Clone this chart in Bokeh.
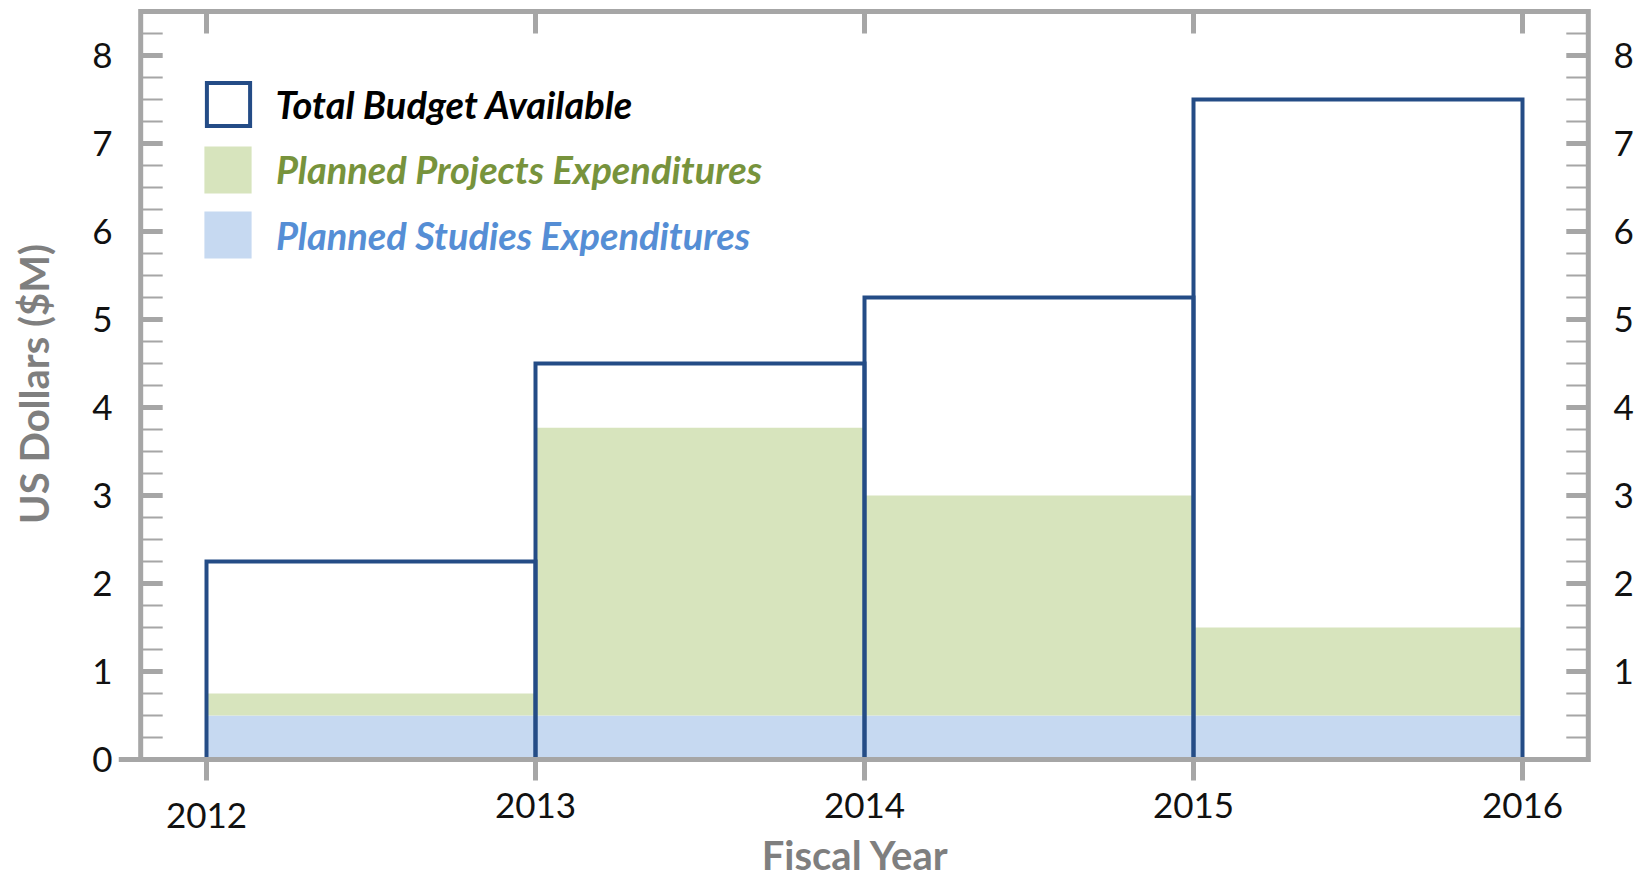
from bokeh.plotting import figure
from bokeh.models import (Range1d, LinearAxis, FixedTicker, Legend, LegendItem,
                          ColumnDataSource)
from bokeh.embed import file_html
from bokeh.resources import INLINE

# ---------------- data ----------------
years = [2012, 2013, 2014, 2015]
year_ticks = [2012, 2013, 2014, 2015, 2016]
total_budget = [2.25, 4.5, 5.25, 7.5]
studies = [0.5, 0.5, 0.5, 0.5]
projects = [0.25, 3.27, 2.5, 1.0]
left_ticks = [0, 1, 2, 3, 4, 5, 6, 7, 8]
right_ticks = [1, 2, 3, 4, 5, 6, 7, 8]
legend_labels = ["Total Budget Available", "Planned Projects Expenditures",
                 "Planned Studies Expenditures"]
x_title = "Fiscal Year"
y_title = "US Dollars ($M)"

# ---------------- styles ----------------
NAVY = "#244C86"
GREEN_FILL = "#D7E4BD"
BLUE_FILL = "#C6D9F1"
GRAY = "#A6A6A6"
TITLE_GRAY = "#7F7F7F"
TICK_COLOR = "#111111"
FONT = "Lato"

W, H = 1640, 882
FL, FR, FT, FB = 118, 1592, 5, 762          # frame edges (px)
X0_PX, PX_YEAR = 206, 329.0                  # 2012 position, px per year
Y0_PX, PX_UNIT = 759, 88.0                   # y=0 position, px per $M

x_start = years[0] - (X0_PX - FL) / PX_YEAR
x_end = years[0] + (FR - X0_PX) / PX_YEAR
y_start = -(FB - Y0_PX) / PX_UNIT
y_end = (Y0_PX - FT) / PX_UNIT

box_left = years[0] - 0.2
box_right = year_ticks[-1] + 0.2
box_top = 8.5
tick_len_x = 22 / PX_YEAR
tick_len_y = 22 / PX_UNIT

p = figure(width=W, height=H, x_range=Range1d(x_start, x_end), y_range=Range1d(y_start, y_end),
           x_axis_type=None, y_axis_type=None, output_backend="svg", toolbar_location=None,
           min_border_left=FL, min_border_right=W - FR, min_border_top=FT, min_border_bottom=H - FB)
p.outline_line_color = None
p.background_fill_color = "white"
p.border_fill_color = "white"

# ---------------- bars ----------------
rights = [y + 1 for y in years]
proj_top = [s + v for s, v in zip(studies, projects)]
src = ColumnDataSource(dict(left=years, right=rights, zero=[0] * len(years),
                            stud_top=studies, proj_top=proj_top, total=total_budget))

blue_r = p.quad(left="left", right="right", bottom="zero", top="stud_top", source=src,
                fill_color=BLUE_FILL, line_color=None)
green_r = p.quad(left="left", right="right", bottom="stud_top", top="proj_top", source=src,
                 fill_color=GREEN_FILL, line_color=None)
total_r = p.quad(left="left", right="right", bottom="zero", top="total", source=src,
                 fill_color=None, line_color=NAVY, line_width=4, line_join="miter")

# ---------------- frame lines & ticks ----------------
p.line(x=[x_start, box_right, box_right, box_left, box_left], y=[0, 0, box_top, box_top, 0],
       line_color=GRAY, line_width=5, line_join="miter")

minor_y = [i / 4 for i in range(1, 34) if i % 4 != 0]
major_y = right_ticks
p.segment(x0=[box_left] * len(minor_y), x1=[box_left + tick_len_x] * len(minor_y),
          y0=minor_y, y1=minor_y, line_color=GRAY, line_width=2)
p.segment(x0=[box_right - tick_len_x] * len(minor_y), x1=[box_right] * len(minor_y),
          y0=minor_y, y1=minor_y, line_color=GRAY, line_width=2)
p.segment(x0=[box_left] * len(major_y), x1=[box_left + tick_len_x] * len(major_y),
          y0=major_y, y1=major_y, line_color=GRAY, line_width=5)
p.segment(x0=[box_right - tick_len_x] * len(major_y), x1=[box_right] * len(major_y),
          y0=major_y, y1=major_y, line_color=GRAY, line_width=5)
p.segment(x0=year_ticks, x1=year_ticks, y0=[box_top] * len(year_ticks),
          y1=[box_top - tick_len_y] * len(year_ticks), line_color=GRAY, line_width=5)

# ---------------- axes ----------------
common = dict(axis_line_color=None, minor_tick_line_color=None,
              major_label_text_font=FONT, major_label_text_font_size="35px",
              major_label_text_color=TICK_COLOR)

# the first year label sits a little lower in the original: push it down one short line
xa = LinearAxis(ticker=FixedTicker(ticks=year_ticks), major_tick_line_color=GRAY,
                major_tick_line_width=5, major_tick_in=3, major_tick_out=18,
                major_label_standoff=2, major_label_text_line_height=0.26,
                major_label_overrides={year_ticks[0]: "\n" + str(year_ticks[0])},
                axis_label=x_title, axis_label_text_font=FONT,
                axis_label_text_font_style="bold", axis_label_text_font_size="40px",
                axis_label_text_color=TITLE_GRAY, axis_label_standoff=-7, **common)
p.add_layout(xa, "below")

ya = LinearAxis(ticker=FixedTicker(ticks=left_ticks), major_tick_line_color=None,
                major_tick_in=0, major_tick_out=0, major_label_standoff=6,
                axis_label=y_title, axis_label_text_font=FONT,
                axis_label_text_font_style="bold", axis_label_text_font_size="40px",
                axis_label_text_color=TITLE_GRAY, axis_label_standoff=31, **common)
p.add_layout(ya, "left")

ya2 = LinearAxis(ticker=FixedTicker(ticks=right_ticks), major_tick_line_color=None,
                 major_tick_in=0, major_tick_out=0, major_label_standoff=21, **common)
p.add_layout(ya2, "right")

# ---------------- legends ----------------
def make_legend(label, rend, color, glyph, loc, standoff):
    lg = Legend(items=[LegendItem(label=label, renderers=[rend])], location=loc,
                glyph_width=glyph, glyph_height=glyph, label_height=glyph,
                label_standoff=standoff, label_text_font=FONT,
                label_text_font_style="bold italic", label_text_font_size="38px",
                label_text_color=color, border_line_color=None, background_fill_alpha=0,
                padding=0, margin=0, spacing=0)
    p.add_layout(lg, "center")

make_legend(legend_labels[0], total_r, "#000000", 54, (82.5, 631.5), 21)
make_legend(legend_labels[1], green_r, "#77933C", 59, (80, 563.5), 19)
make_legend(legend_labels[2], blue_r, "#558ED5", 59, (80, 498), 19)

open("out.html", "w").write(file_html(p, INLINE))
